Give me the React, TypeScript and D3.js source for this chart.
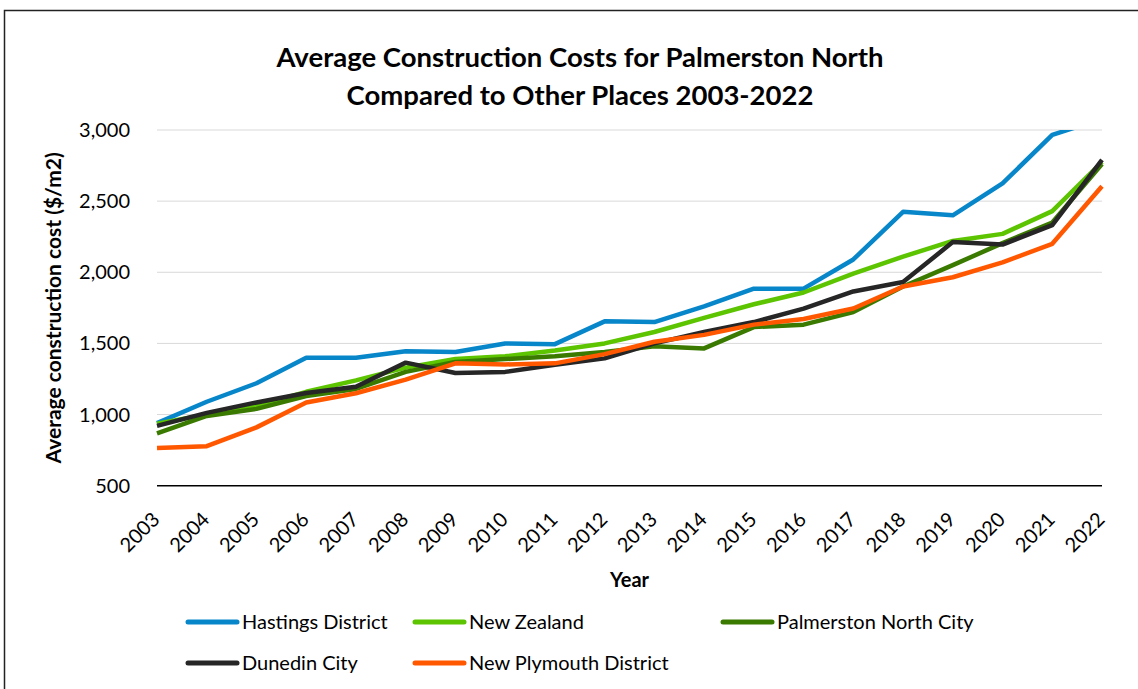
import React from "react";
import * as d3 from "d3";

const years = [2003,2004,2005,2006,2007,2008,2009,2010,2011,2012,2013,2014,2015,2016,2017,2018,2019,2020,2021,2022];
const hastings = [940,1090,1220,1400,1400,1445,1440,1500,1495,1655,1650,1760,1885,1885,2090,2425,2400,2625,2965,3080];
const newZealand = [935,1000,1060,1160,1240,1330,1390,1410,1450,1500,1580,1680,1775,1858,1990,2110,2220,2270,2430,2775];
const palmerston = [868,990,1040,1130,1180,1300,1370,1390,1410,1440,1480,1465,1615,1632,1720,1900,2050,2205,2350,2760];
const dunedin = [920,1012,1085,1152,1195,1365,1292,1300,1350,1395,1500,1580,1650,1745,1865,1932,2212,2195,2332,2790];
const newPlymouth = [765,778,910,1085,1150,1245,1360,1352,1360,1425,1512,1560,1632,1672,1745,1900,1965,2070,2200,2605];
const yTicks = [500,1000,1500,2000,2500,3000];

const seriesNames = ["Hastings District","New Zealand","Palmerston North City","Dunedin City","New Plymouth District"];
const seriesValues = [hastings,newZealand,palmerston,dunedin,newPlymouth];
const colors = ["#0786CA","#5CC400","#3A7A00","#262626","#FF5800"];

export default function App() {
  const W = 1138, H = 689;
  const left = 157, right = 1102, top = 130, bottom = 485.7;
  const x = d3.scaleLinear().domain([2003, 2022]).range([left, right]);
  const y = d3.scaleLinear().domain([500, 3000]).range([bottom, top]);
  const line = d3.line<number>().x((_, i) => x(years[i])).y(d => y(d));
  const font = "Lato, 'Open Sans', sans-serif";
  const legendPos = [
    { lx: 188, row: 0 }, { lx: 415, row: 0 }, { lx: 723, row: 0 },
    { lx: 188, row: 1 }, { lx: 415, row: 1 },
  ];
  return (
    <svg width={W} height={H} style={{ position: "absolute", left: 0, top: 0, background: "#fff" }} fontFamily={font}>
      <defs>
        <clipPath id="plotclip">
          <rect x={left - 5} y={top} width={right - left + 10} height={bottom - top + 10} />
        </clipPath>
      </defs>
      <rect x={4.5} y={10.5} width={W} height={H} fill="#fff" stroke="#222" strokeWidth={1.5} />
      <text x={580} y={67} textAnchor="middle" fontSize={27.5} fontWeight="bold" fill="#000">Average Construction Costs for Palmerston North</text>
      <text x={580} y={105} textAnchor="middle" fontSize={27.5} fontWeight="bold" fill="#000">Compared to Other Places 2003-2022</text>
      {yTicks.map(t => (
        <g key={t}>
          {t > 500 && <line x1={left} x2={right} y1={y(t)} y2={y(t)} stroke="#D9D9D9" strokeWidth={1} />}
          <text x={130} y={y(t) + 7} textAnchor="end" fontSize={20} fill="#000">{d3.format(",")(t)}</text>
        </g>
      ))}
      <line x1={left} x2={right} y1={bottom} y2={bottom} stroke="#000" strokeWidth={1.5} />
      {years.map(yr => (
        <text key={yr} transform={`translate(${x(yr) + 4},${bottom + 35}) rotate(-45)`} textAnchor="end" fontSize={20} fill="#000">{yr}</text>
      ))}
      <text transform={`translate(61,${(top + bottom) / 2}) rotate(-90)`} textAnchor="middle" fontSize={21} fontWeight="bold" fill="#000">Average construction cost ($/m2)</text>
      <text x={(left + right) / 2} y={587} textAnchor="middle" fontSize={20} fontWeight="bold" fill="#000">Year</text>
      <g clipPath="url(#plotclip)">
        {seriesValues.map((vals, i) => (
          <path key={i} d={line(vals) || ""} fill="none" stroke={colors[i]} strokeWidth={4.5} strokeLinejoin="round" />
        ))}
      </g>
      {seriesNames.map((n, i) => {
        const p = legendPos[i];
        const ly = 622 + p.row * 41;
        return (
          <g key={n}>
            <line x1={p.lx} x2={p.lx + 49} y1={ly} y2={ly} stroke={colors[i]} strokeWidth={5} strokeLinecap="round" />
            <text x={p.lx + 54} y={ly + 7} fontSize={20} fill="#000">{n}</text>
          </g>
        );
      })}
    </svg>
  );
}
